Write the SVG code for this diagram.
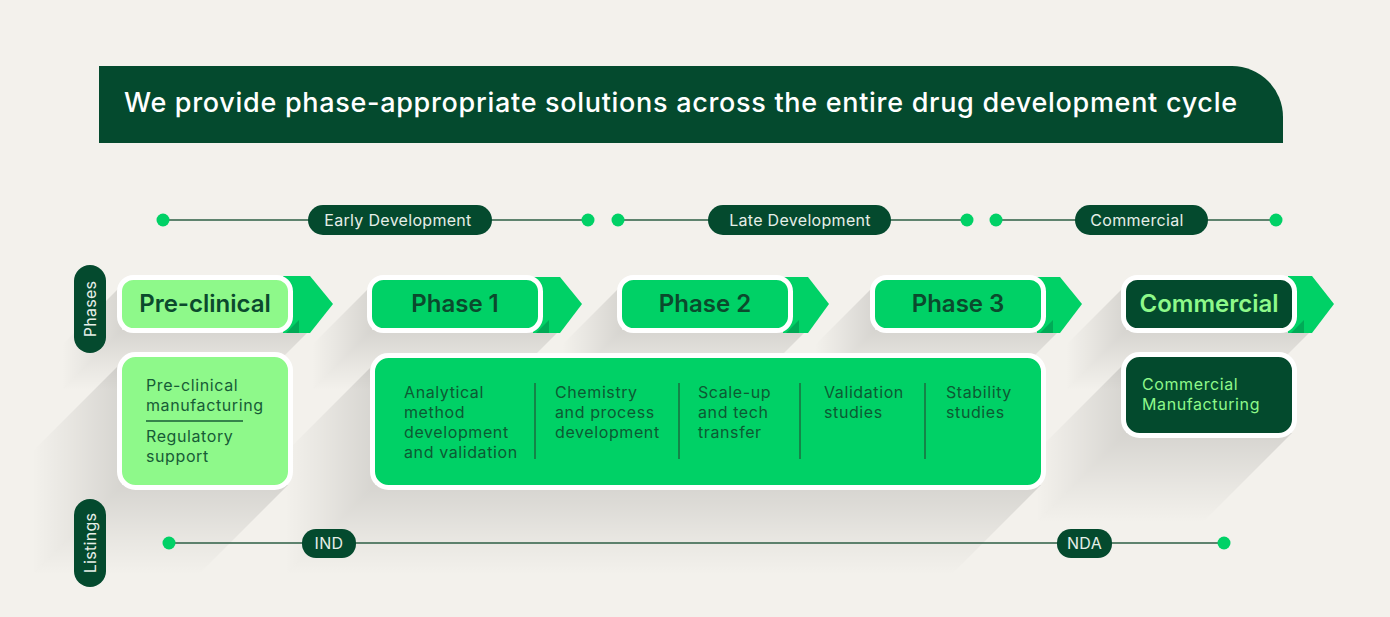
<svg xmlns="http://www.w3.org/2000/svg" width="1390" height="617" viewBox="0 0 1390 617">
<defs>
<linearGradient id="shv" x1="0" y1="0" x2="0" y2="1"><stop offset="0" stop-color="#000" stop-opacity="0.12"/><stop offset="0.6" stop-color="#000" stop-opacity="0.045"/><stop offset="1" stop-color="#000" stop-opacity="0"/></linearGradient>
<linearGradient id="shh" x1="1" y1="0" x2="0" y2="0"><stop offset="0" stop-color="#000" stop-opacity="0.12"/><stop offset="0.6" stop-color="#000" stop-opacity="0.045"/><stop offset="1" stop-color="#000" stop-opacity="0"/></linearGradient>
<style>
.t{font-family:Inter,"Liberation Sans",sans-serif}
.dk{fill:#044a2e}
.pill{font-family:Inter,"Liberation Sans",sans-serif;font-size:16px;fill:#e6efe8;text-anchor:middle;letter-spacing:0.3px}
.dot{fill:#00d166}
.tl{stroke:#2c5e45;stroke-width:1.6}
.arrow{fill:#00d166}
.fold{fill:#00aa56}
.box{stroke:#fff;stroke-width:5}
.ph{font-family:Inter,"Liberation Sans",sans-serif;font-size:24px;font-weight:600;text-anchor:middle}
.ct{font-family:Inter,"Liberation Sans",sans-serif;font-size:16px;letter-spacing:0.6px}
.sv{fill:url(#shv)}
.sh{fill:url(#shh)}
</style>
</defs>
<rect width="1390" height="617" fill="#f3f1ec"/>

<g id="shadows">
<polygon class="sv" points="122,330 310,330 250,390 62,390"/><polygon class="sh" points="122,285 122,330 62,390 62,345"/>
<polygon class="sv" points="372,330 560,330 500,390 312,390"/><polygon class="sh" points="372,285 372,330 312,390 312,345"/>
<polygon class="sv" points="622,330 807,330 747,390 562,390"/><polygon class="sh" points="622,285 622,330 562,390 562,345"/>
<polygon class="sv" points="875,330 1060,330 1000,390 815,390"/><polygon class="sh" points="875,285 875,330 815,390 815,345"/>
<polygon class="sv" points="1126,330 1312,330 1252,390 1066,390"/><polygon class="sh" points="1126,285 1126,330 1066,390 1066,345"/>
<polygon class="sv" points="122,485 288,485 198,575 32,575"/><polygon class="sh" points="122,362 122,485 32,575 32,452"/>
<polygon class="sv" points="375,485 1041,485 951,575 285,575"/><polygon class="sh" points="375,363 375,485 285,575 285,453"/>
<polygon class="sv" points="1126,433 1292,433 1202,523 1036,523"/><polygon class="sh" points="1126,362 1126,433 1036,523 1036,452"/>
</g>

<g id="header">
<path class="dk" d="M99,66 H1232 A51,51 0 0 1 1283,117 V143 H99 Z"/>
<text class="t" x="124" y="112" font-size="27" font-weight="500" fill="#ffffff" textLength="1113" lengthAdjust="spacing">We provide phase-appropriate solutions across the entire drug development cycle</text>
</g>

<g id="connectors">
<line class="tl" x1="163" y1="220" x2="588" y2="220"/>
<line class="tl" x1="618" y1="220" x2="967" y2="220"/>
<line class="tl" x1="996" y1="220" x2="1276" y2="220"/>
<line class="tl" x1="169" y1="543" x2="1224" y2="543"/>
<circle class="dot" cx="163" cy="220" r="6.5"/><circle class="dot" cx="588" cy="220" r="6.5"/>
<circle class="dot" cx="618" cy="220" r="6.5"/><circle class="dot" cx="967" cy="220" r="6.5"/>
<circle class="dot" cx="996" cy="220" r="6.5"/><circle class="dot" cx="1276" cy="220" r="6.5"/>
<circle class="dot" cx="169" cy="543" r="6.5"/><circle class="dot" cx="1224" cy="543" r="6.5"/>
</g>

<g id="early-development"><rect class="dk" x="308" y="205" width="184" height="30" rx="15"/><text class="pill" x="398" y="225.5">Early Development</text></g>
<g id="late-development"><rect class="dk" x="708" y="205" width="183" height="30" rx="15"/><text class="pill" x="800" y="225.5">Late Development</text></g>
<g id="commercial-stage"><rect class="dk" x="1075" y="205" width="133" height="30" rx="15"/><text class="pill" x="1137" y="225.5">Commercial</text></g>

<g id="ind"><rect class="dk" x="302" y="529" width="54" height="29" rx="14"/><text class="pill" x="329" y="549">IND</text></g>
<g id="nda"><rect class="dk" x="1057" y="529" width="55" height="29" rx="14"/><text class="pill" x="1084.5" y="549">NDA</text></g>

<g id="phases-label"><rect class="dk" x="74" y="265" width="32" height="88" rx="16"/><text class="pill" transform="rotate(-90 90 309)" x="90" y="314.5">Phases</text></g>
<g id="listings-label"><rect class="dk" x="74" y="499" width="32" height="88" rx="16"/><text class="pill" transform="rotate(-90 90 543)" x="90" y="548.5">Listings</text></g>

<g id="pre-clinical">
<polygon class="arrow" points="283,276 310,276 333,304 310,333 283,333"/>
<polygon class="fold" points="286,333 299,333 299,320"/>
<rect class="box" x="119.5" y="277.5" width="171" height="53" rx="14" fill="#8ef98a"/>
<text class="ph" x="205" y="312" fill="#0b4a2d">Pre-clinical</text>
</g>
<g id="phase-1">
<polygon class="arrow" points="533,277 560,277 582,304 560,333 533,333"/>
<polygon class="fold" points="536,333 549,333 549,320"/>
<rect class="box" x="369.5" y="277.5" width="171" height="53" rx="14" fill="#00d166"/>
<text class="ph" x="455" y="312" fill="#0b4a2d">Phase 1</text>
</g>
<g id="phase-2">
<polygon class="arrow" points="783,277 808,277 829,304 808,333 783,333"/>
<polygon class="fold" points="786,333 799,333 799,320"/>
<rect class="box" x="619.5" y="277.5" width="171" height="53" rx="14" fill="#00d166"/>
<text class="ph" x="705" y="312" fill="#0b4a2d">Phase 2</text>
</g>
<g id="phase-3">
<polygon class="arrow" points="1037,277 1060,277 1082,304 1060,333 1037,333"/>
<polygon class="fold" points="1040,333 1053,333 1053,320"/>
<rect class="box" x="872.5" y="277.5" width="171" height="53" rx="14" fill="#00d166"/>
<text class="ph" x="958" y="312" fill="#0b4a2d">Phase 3</text>
</g>
<g id="commercial">
<polygon class="arrow" points="1288,276 1312,276 1334,304 1312,333 1288,333"/>
<polygon class="fold" points="1291,333 1304,333 1304,320"/>
<rect class="box" x="1123.5" y="277.5" width="171" height="53" rx="14" fill="#034a2d"/>
<text class="ph" x="1209" y="312" fill="#8ef98a">Commercial</text>
</g>

<g id="pre-clinical-services">
<rect class="box" x="119.5" y="354.5" width="171" height="133" rx="16" fill="#8ef98a"/>
<g class="ct" fill="#175c36">
<text x="146" y="391">Pre-clinical</text>
<text x="146" y="411">manufacturing</text>
<text x="146" y="442">Regulatory</text>
<text x="146" y="462">support</text>
</g>
<line x1="146" y1="421" x2="243" y2="421" stroke="#175c36" stroke-width="1.5"/>
</g>

<g id="clinical-services">
<rect class="box" x="372.5" y="355.5" width="671" height="132" rx="16" fill="#00d166"/>
<g class="ct" fill="#0d5a33">
<text x="404" y="398">Analytical</text><text x="404" y="418">method</text><text x="404" y="438">development</text><text x="404" y="458">and validation</text>
<text x="555" y="398">Chemistry</text><text x="555" y="418">and process</text><text x="555" y="438">development</text>
<text x="698" y="398">Scale-up</text><text x="698" y="418">and tech</text><text x="698" y="438">transfer</text>
<text x="824" y="398">Validation</text><text x="824" y="418">studies</text>
<text x="946" y="398">Stability</text><text x="946" y="418">studies</text>
</g>
<g stroke="#1b6b3f" stroke-width="1.5">
<line x1="535" y1="383" x2="535" y2="459"/>
<line x1="679" y1="383" x2="679" y2="459"/>
<line x1="800" y1="383" x2="800" y2="459"/>
<line x1="925" y1="383" x2="925" y2="459"/>
</g>
</g>

<g id="commercial-services">
<rect class="box" x="1123.5" y="354.5" width="171" height="81" rx="16" fill="#034a2d"/>
<g class="ct" fill="#8ef98a">
<text x="1142" y="390">Commercial</text>
<text x="1142" y="410">Manufacturing</text>
</g>
</g>
</svg>
